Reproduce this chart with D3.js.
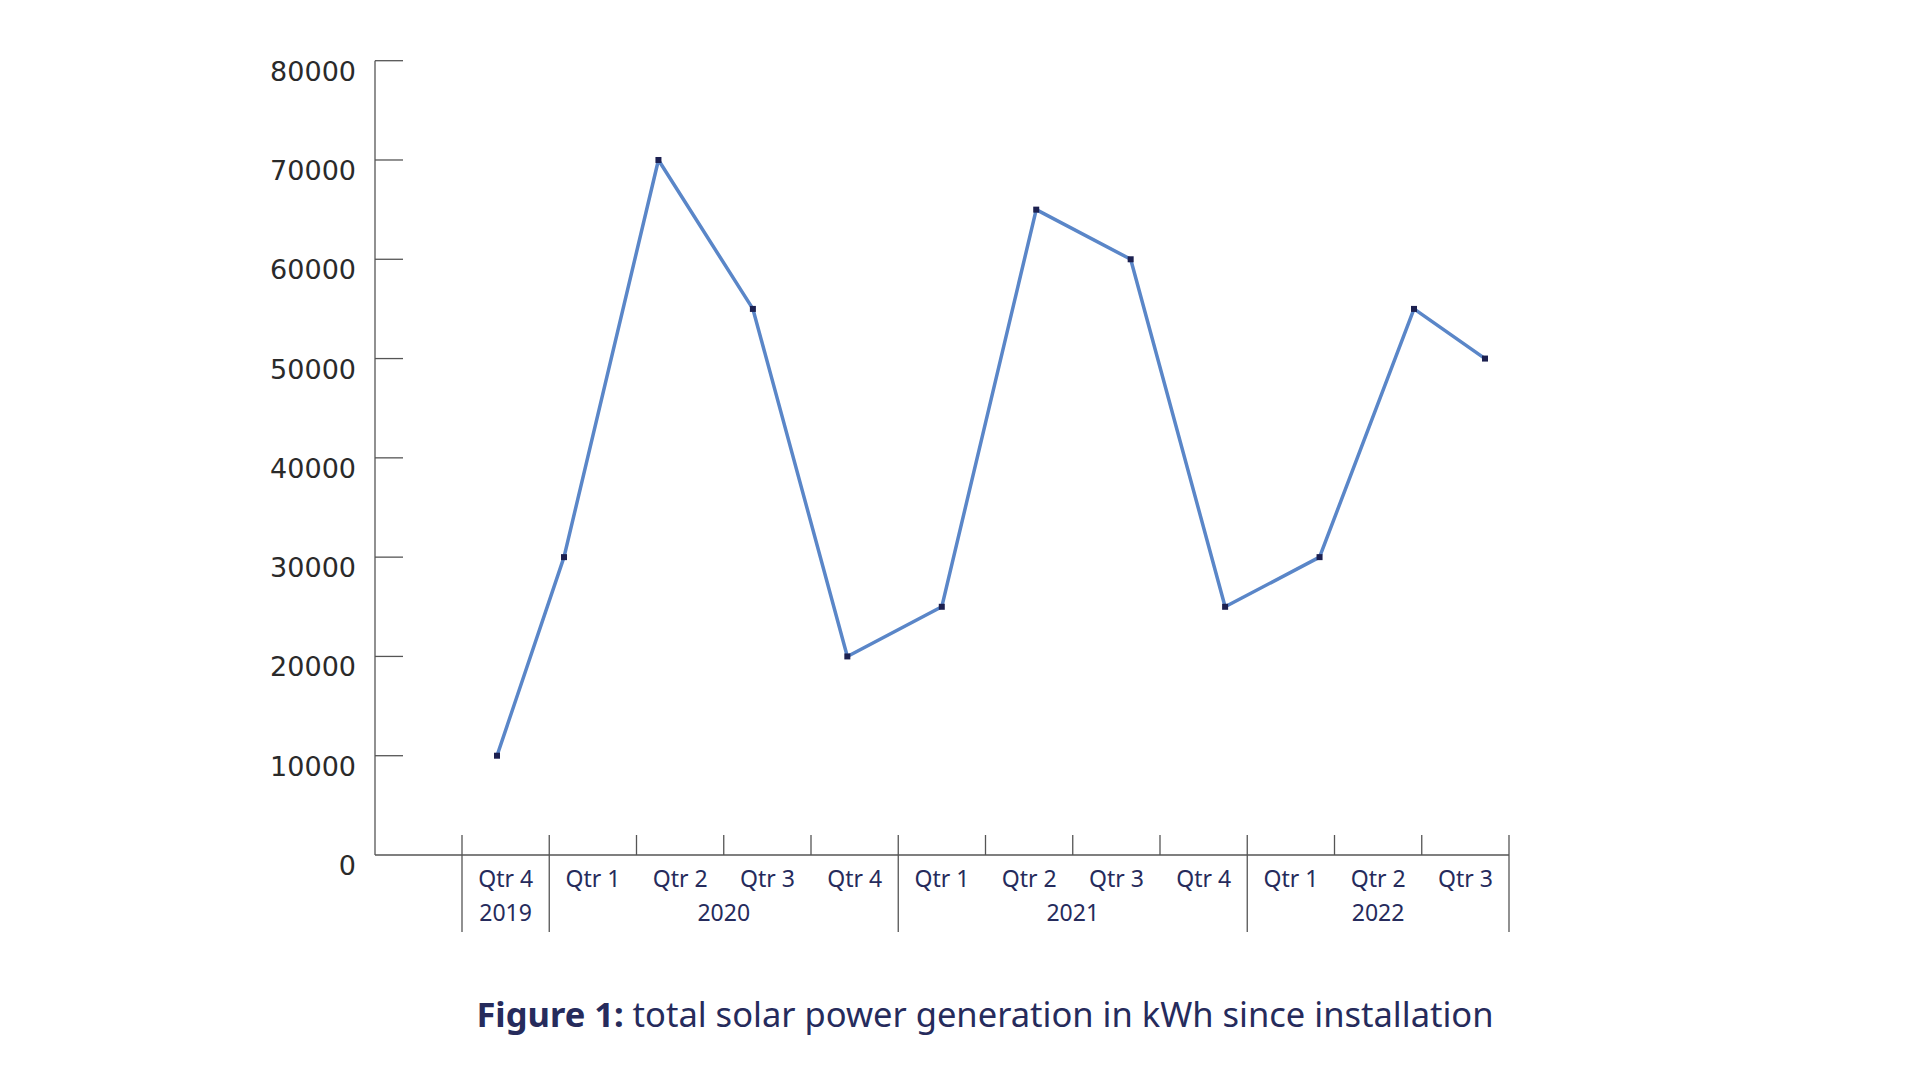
<!DOCTYPE html>
<html>
<head>
<meta charset="utf-8">
<title>solar generation</title>
<script src="https://cdn.jsdelivr.net/npm/d3@7"></script>
<style>
	body{ margin:0; background:#fff; }
	.ylab{ font-family:"DejaVu Sans"; font-size:27px; fill:#2a2a2a; }
	.xlab{ font-family:"Noto Sans"; font-size:23px; fill:#262b5c; }
	.caption{ font-family:"Noto Sans"; font-size:34.5px; fill:#262b5c; }
</style>
</head>
<body>
<svg width="1920" height="1080"></svg>
<script>
// data
var quarters = ["Qtr 4", "Qtr 1", "Qtr 2", "Qtr 3", "Qtr 4", "Qtr 1", "Qtr 2", "Qtr 3", "Qtr 4", "Qtr 1", "Qtr 2", "Qtr 3"];
var years = ["2019", "2020", "2020", "2020", "2020", "2021", "2021", "2021", "2021", "2022", "2022", "2022"];
var generation = [10000, 30000, 70000, 55000, 20000, 25000, 65000, 60000, 25000, 30000, 55000, 50000];
var yTicks = [0, 10000, 20000, 30000, 40000, 50000, 60000, 70000, 80000];

var svg = d3.select("svg"),
	axisX = 375,
	axisY = 855,
	lineCol = "#5a86c8",
	tickCol = "#555";

var keys = quarters.map((q, i) => years[i] + " " + q);

var y = d3.scaleLinear().domain([0, 80000]).range([axisY, 60.7]);
// category bands (first band of the axis is left empty)
var xBand = d3.scaleBand().domain(keys).range([462, 1509]);
// the series points do not sit at band centres, they follow their own spacing
var xLine = d3.scaleLinear().domain([0, 1, keys.length - 2, keys.length - 1]).range([497, 564, 1414, 1485]);

// y axis
var gy = svg.append("g");
gy.append("line").attr("x1", axisX).attr("x2", axisX)
	.attr("y1", y(80000)).attr("y2", axisY)
	.attr("stroke", tickCol).attr("stroke-width", 1.3);
gy.selectAll(".yt").data(yTicks.filter(d => d > 0)).enter().append("line")
	.attr("x1", axisX).attr("x2", axisX + 28)
	.attr("y1", d => y(d)).attr("y2", d => y(d))
	.attr("stroke", tickCol).attr("stroke-width", 1.3);
gy.selectAll(".ylab").data(yTicks).enter().append("text")
	.attr("class", "ylab")
	.attr("x", 356).attr("y", d => y(d) + 20)
	.attr("text-anchor", "end")
	.text(d => d);

// x axis
var gx = svg.append("g");
gx.append("line").attr("x1", axisX).attr("x2", xBand.range()[1])
	.attr("y1", axisY).attr("y2", axisY)
	.attr("stroke", tickCol).attr("stroke-width", 1.3);

// year groups
var yearGroups = [];
years.forEach((yr, i) => {
	var last = yearGroups[yearGroups.length - 1];
	if (last && last.year === yr) last.end = i;
	else yearGroups.push({year: yr, start: i, end: i});
});
var bounds = keys.map(k => xBand(k)).concat([xBand.range()[1]]);
var yearBounds = yearGroups.map(g => g.start).concat([keys.length]);

gx.selectAll(".xt").data(bounds).enter().append("line")
	.attr("x1", d => d).attr("x2", d => d)
	.attr("y1", axisY - 20)
	.attr("y2", (d, i) => yearBounds.indexOf(i) >= 0 ? 932 : axisY)
	.attr("stroke", tickCol).attr("stroke-width", 1.3);

gx.selectAll(".qlab").data(keys).enter().append("text")
	.attr("class", "xlab")
	.attr("x", d => xBand(d) + xBand.bandwidth() / 2)
	.attr("y", 887)
	.attr("text-anchor", "middle")
	.text((d, i) => quarters[i]);

gx.selectAll(".ylab2").data(yearGroups).enter().append("text")
	.attr("class", "xlab")
	.attr("x", d => (xBand(keys[d.start]) + xBand(keys[d.end]) + xBand.bandwidth()) / 2)
	.attr("y", 921)
	.attr("text-anchor", "middle")
	.text(d => d.year);

// series
var line = d3.line().x((d, i) => xLine(i)).y(d => y(d));
svg.append("path").datum(generation)
	.attr("fill", "none")
	.attr("stroke", lineCol)
	.attr("stroke-width", 3.5)
	.attr("stroke-linejoin", "round")
	.attr("d", line);
svg.selectAll(".pt").data(generation).enter().append("rect")
	.attr("x", (d, i) => xLine(i) - 3)
	.attr("y", d => y(d) - 3)
	.attr("width", 6).attr("height", 6)
	.attr("fill", "#1c2050");

// caption
var cap = svg.append("text").attr("class", "caption")
	.attr("x", 985).attr("y", 1027)
	.attr("text-anchor", "middle");
cap.append("tspan").attr("font-weight", "bold").text("Figure 1:");
cap.append("tspan").text(" total solar power generation in kWh since installation");
</script>
</body>
</html>
